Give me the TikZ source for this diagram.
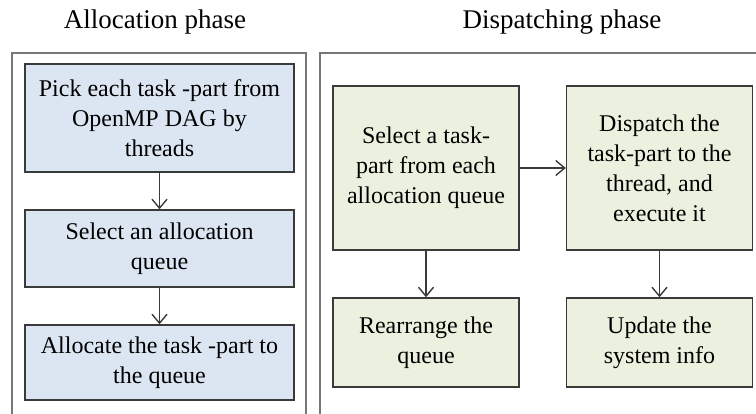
\documentclass[tikz,border=0pt]{standalone}
\usepackage{fontspec}
\setmainfont{Liberation Serif}
\usetikzlibrary{arrows.meta}
\definecolor{allocfill}{HTML}{DCE6F2}
\definecolor{dispfill}{HTML}{EBF1DE}
\definecolor{boxline}{HTML}{3A3A3A}
\definecolor{frameline}{HTML}{777777}
\begin{document}
\begin{tikzpicture}[x=1pt,y=1pt,
  stepbox/.style={draw=boxline, line width=1.4pt, align=center, inner sep=2pt,
    font=\fontsize{24}{30}\selectfont},
  allocbox/.style={stepbox, fill=allocfill, minimum width=269pt},
  dispbox/.style={stepbox, fill=dispfill, minimum width=186pt},
  phase/.style={font=\fontsize{27}{32}\selectfont},
  frame/.style={draw=frameline, line width=2pt},
  flow/.style={draw=boxline, line width=1.4pt, -{Straight Barb[length=9pt,width=15pt,line width=1.4pt]}}]
\useasboundingbox (0,0) rectangle (756,-414);

% phase titles
\node[phase] (talloc) at (155,-22) {Allocation phase};
\node[phase] (tdisp) at (562,-22) {Dispatching phase};

% open-bottom frames around each phase
\draw[frame] (12,-414) |- (306,-53) -- (306,-414);
\draw[frame] (320,-414) |- (760,-53);

% allocation phase steps
\node[allocbox, minimum height=108pt] (pick) at (159.5,-118)
  {Pick each task -part from\\OpenMP DAG by\\threads};
\node[allocbox, minimum height=77pt] (select) at (159.5,-248.5)
  {Select an allocation\\queue};
\node[allocbox, minimum height=75pt] (allocate) at (159.5,-362.5)
  {Allocate the task -part to\\the queue};

% dispatching phase steps
\node[dispbox, minimum height=164pt] (seltask) at (426,-168)
  {Select a task-\\part from each\\allocation queue};
\node[dispbox, minimum height=164pt] (dispatch) at (659.5,-168)
  {Dispatch the\\task-part to the\\thread, and\\execute it};
\node[dispbox, minimum height=89pt] (rearrange) at (426,-342.5)
  {Rearrange the\\queue};
\node[dispbox, minimum height=89pt] (update) at (659.5,-342.5)
  {Update the\\system info};

% connectors
\draw[flow] (pick) -- (select);
\draw[flow] (select) -- (allocate);
\draw[flow] (seltask) -- (dispatch);
\draw[flow] (seltask) -- (rearrange);
\draw[flow] (dispatch) -- (update);
\end{tikzpicture}
\end{document}
